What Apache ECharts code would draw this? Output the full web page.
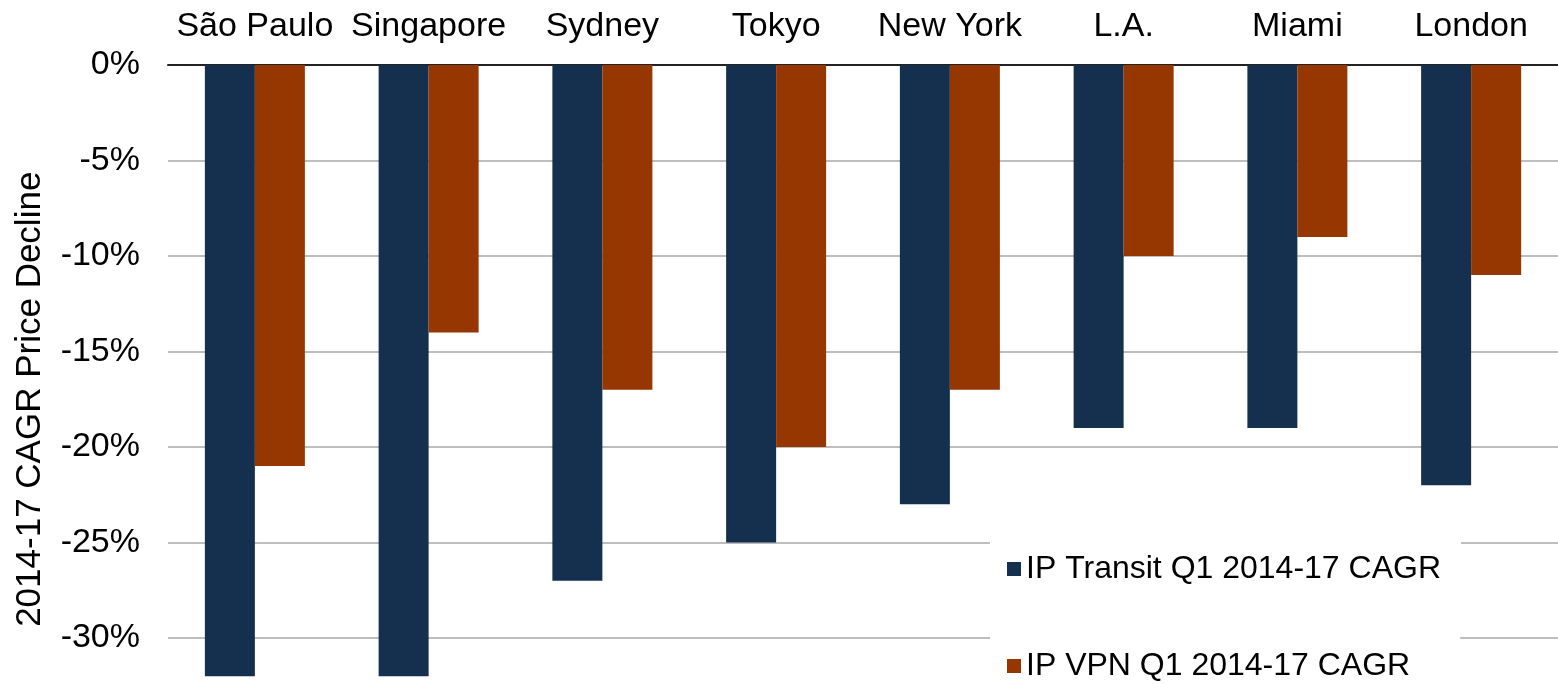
<!DOCTYPE html>
<html>
<head>
<meta charset="utf-8">
<script src="https://cdn.jsdelivr.net/npm/echarts@6/dist/echarts.min.js"></script>
<style>
  html, body { margin: 0; padding: 0; background: #ffffff; }
  #chart { width: 1558px; height: 684px; }
</style>
</head>
<body>
<div id="chart"></div>
<script>
  // values (percent)
  var cities = ['São Paulo', 'Singapore', 'Sydney', 'Tokyo', 'New York', 'L.A.', 'Miami', 'London']
  var transit = [-32, -32, -27, -25, -23, -19, -19, -22]
  var vpn = [-21, -14, -17, -20, -17, -10, -9, -11]
  var seriesNames = ['IP Transit Q1 2014-17 CAGR', 'IP VPN Q1 2014-17 CAGR']

  var font = '"Liberation Sans", Arial, Helvetica, sans-serif'
  var chart = echarts.init(document.getElementById('chart'))

  // one legend per item so they can sit far apart, white box hides the grid lines
  var legendBase = {
    orient: 'vertical',
    left: 990,
    backgroundColor: '#ffffff',
    itemWidth: 14,
    itemHeight: 14,
    icon: 'rect',
    textStyle: { fontSize: 32, color: '#000', fontFamily: font }
  }

  chart.setOption({
    animation: false,
    textStyle: { fontFamily: font },
    // axis runs on below the picture, so -35% is cut off like in the original
    grid: { left: 168, right: 0, top: 65, height: 668.5, containLabel: false, outerBoundsMode: 'none' },
    legend: [
      Object.assign({}, legendBase, { data: [seriesNames[0]], top: 500, padding: [53, 20, 40, 17] }),
      Object.assign({}, legendBase, { data: [seriesNames[1]], top: 625, padding: [25, 50, 40, 17] })
    ],
    xAxis: {
      type: 'category',
      position: 'top',
      data: cities,
      axisLine: { lineStyle: { color: '#222', width: 2 } },
      axisTick: { show: false },
      axisLabel: { fontSize: 34, color: '#000', margin: 21, interval: 0 }
    },
    yAxis: {
      type: 'value',
      min: -35,
      max: 0,
      interval: 5,
      name: '2014-17 CAGR Price Decline',
      nameLocation: 'middle',
      nameGap: 120,
      nameTextStyle: { fontSize: 35, color: '#000' },
      axisLine: { show: false },
      axisTick: { show: false },
      axisLabel: { fontSize: 34, color: '#000', margin: 28, formatter: '{value}%' },
      splitLine: { lineStyle: { color: '#a8a8a8', width: 1.5 } }
    },
    series: [
      {
        name: seriesNames[0],
        type: 'bar',
        data: transit,
        barWidth: 50,
        barGap: '0%',
        itemStyle: { color: '#14304e' }
      },
      {
        name: seriesNames[1],
        type: 'bar',
        data: vpn,
        barWidth: 50,
        itemStyle: { color: '#963600' }
      }
    ]
  })
</script>
</body>
</html>
